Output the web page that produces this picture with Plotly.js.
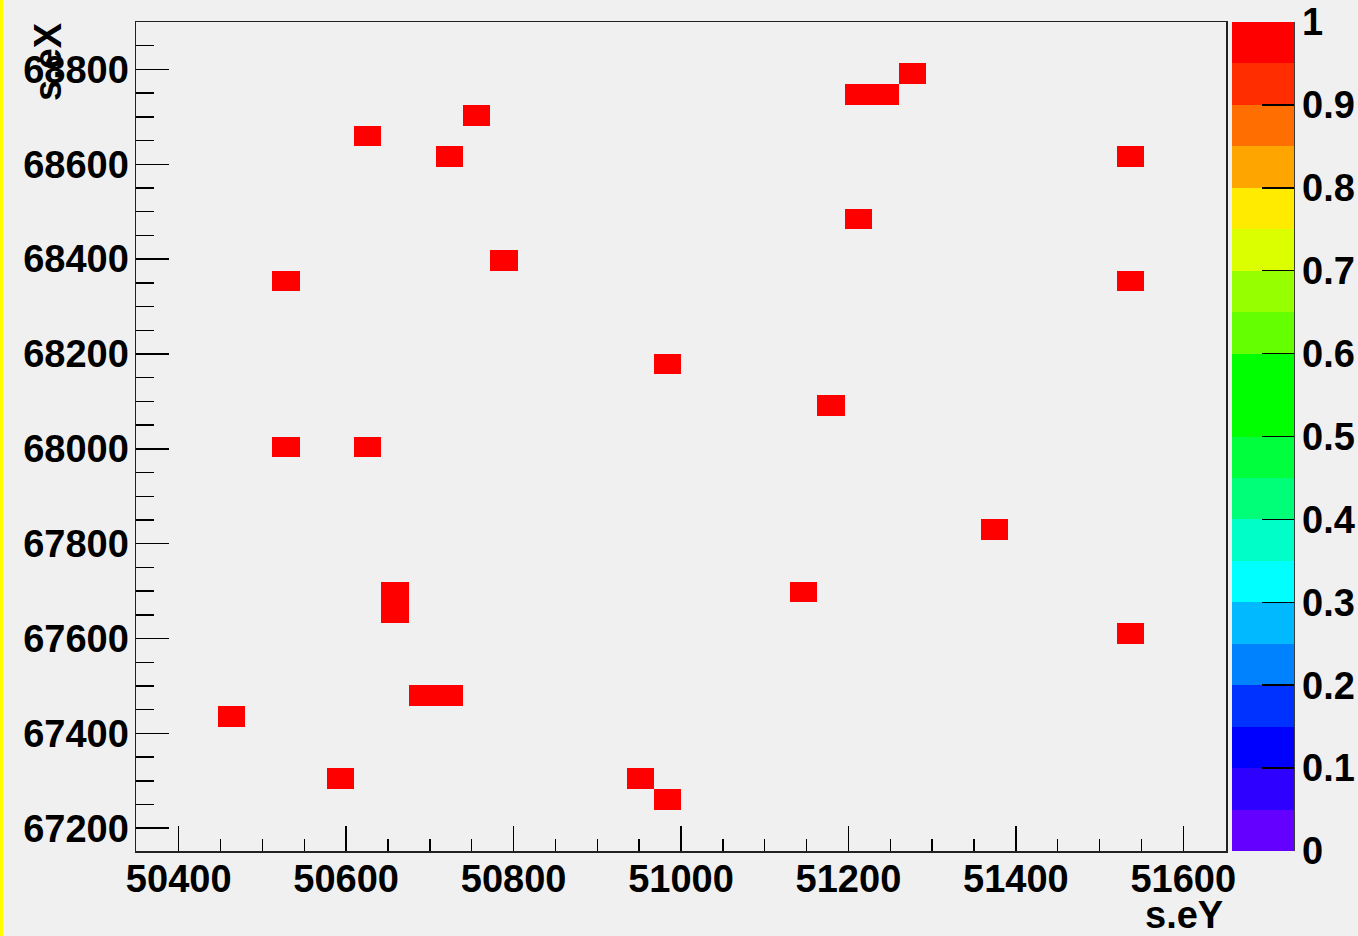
<!DOCTYPE html>
<html>
<head>
<meta charset="utf-8">
<script src="https://cdn.plot.ly/plotly-3.0.1.min.js"></script>
<style>
  html, body { margin: 0; padding: 0; background: #f0f0f0; }
  #chart { width: 1358px; height: 936px; }
</style>
</head>
<body>
<div id="chart"></div>
<script>
// Filled cells of the 2D histogram (bin centres): s.eY on x, s.eX on y
const sEY = [51277, 51212, 51244, 50756, 50626, 50723, 51537, 51212, 50788, 50528,
             51537, 50984, 51179, 50528, 50626, 51374, 50658, 50658, 51146, 51537,
             50691, 50723, 50463, 50593, 50951, 50984];
const sEX = [68792, 68748, 68748, 68704, 68660, 68617, 68617, 68485, 68398, 68354,
             68354, 68179, 68092, 68005, 68005, 67830, 67698, 67655, 67698, 67611,
             67480, 67480, 67436, 67305, 67305, 67261];
const counts = [1,1,1,1,1,1,1,1,1,1,1,1,1,1,1,1,1,1,1,1,1,1,1,1,1,1];

// Histogram binning
const nBinsX = 40, xMin = 50349, xMax = 51651;
const nBinsY = 40, yMin = 67152, yMax = 68900;

// ROOT-style palette, bottom (0) to top (1)
const paletteColors = [
  'rgb(100,0,255)','rgb(45,0,255)','rgb(0,0,255)','rgb(0,50,255)','rgb(0,130,255)',
  'rgb(0,185,255)','rgb(0,255,255)','rgb(0,255,200)','rgb(0,255,120)','rgb(0,255,60)',
  'rgb(0,255,0)','rgb(0,255,0)','rgb(100,255,0)','rgb(150,255,0)','rgb(220,255,0)',
  'rgb(255,235,0)','rgb(255,165,0)','rgb(255,110,0)','rgb(255,45,0)','rgb(255,0,0)'
];
const paletteTicks = [0, 0.1, 0.2, 0.3, 0.4, 0.5, 0.6, 0.7, 0.8, 0.9, 1];

const dx = (xMax - xMin) / nBinsX;
const dy = (yMax - yMin) / nBinsY;
const z = [];
for (let j = 0; j < nBinsY; j++) { z.push(new Array(nBinsX).fill(null)); }
for (let k = 0; k < sEY.length; k++) {
  const i = Math.floor((sEY[k] - xMin) / dx);
  const j = Math.floor((sEX[k] - yMin) / dy);
  if (i >= 0 && i < nBinsX && j >= 0 && j < nBinsY) {
    z[j][i] = (z[j][i] || 0) + counts[k];
  }
}

const n = paletteColors.length;
const colorscale = [];
paletteColors.forEach((c, k) => {
  colorscale.push([k / n, c]);
  colorscale.push([(k + 1) / n, c]);
});

const W = 1358, H = 936;
const mL = 136, mR = 132, mT = 22, mB = 85;
const pw = W - mL - mR, ph = H - mT - mB;
const px2x = p => (p - mL) / pw;
const py2y = p => (H - mB - p) / ph;

const font = { family: 'Liberation Sans, Arial, Helvetica, sans-serif', size: 38, color: '#000', weight: 700 };

const trace = {
  type: 'heatmap',
  z: z,
  x0: xMin + dx / 2, dx: dx,
  y0: yMin + dy / 2, dy: dy,
  zmin: 0, zmax: 1,
  zsmooth: false,
  colorscale: colorscale,
  hoverongaps: false,
  colorbar: {
    x: px2x(1232), xanchor: 'left', xref: 'paper',
    y: 0.5, yanchor: 'middle', len: 1, lenmode: 'fraction',
    thickness: 62, thicknessmode: 'pixels',
    xpad: 0, ypad: 0,
    outlinewidth: 0,
    tickmode: 'array', tickvals: paletteTicks, ticktext: paletteTicks.map(v => String(v)),
    ticks: 'inside', ticklen: 32, tickwidth: 1.5, tickcolor: '#000',
    tickfont: font,
    ticklabelstandoff: 2
  }
};

const axisCommon = {
  showgrid: false, zeroline: false,
  showline: true, linecolor: '#222', linewidth: 1.5, mirror: true,
  ticks: 'inside', tickcolor: '#000', tickwidth: 1.5,
  tickfont: font, tickformat: 'd'
};

const layout = {
  width: W, height: H,
  margin: { l: mL, r: mR, t: mT, b: mB, autoexpand: false },
  paper_bgcolor: '#f0f0f0', plot_bgcolor: '#f0f0f0',
  showlegend: false,
  xaxis: Object.assign({}, axisCommon, {
    range: [xMin, xMax], tick0: 50400, dtick: 200, ticklen: 25,
    minor: { dtick: 50, tick0: 50400, ticks: 'inside', ticklen: 12, tickcolor: '#000', tickwidth: 1.5 },
    ticklabelstandoff: -6
  }),
  yaxis: Object.assign({}, axisCommon, {
    range: [yMin, yMax], tick0: 67200, dtick: 200, ticklen: 33,
    minor: { dtick: 50, tick0: 67200, ticks: 'inside', ticklen: 18, tickcolor: '#000', tickwidth: 1.5 },
    ticklabelstandoff: -2
  }),
  annotations: [
    { text: 's.eX', xref: 'paper', yref: 'paper', x: px2x(48), y: py2y(62),
      xanchor: 'center', yanchor: 'middle', textangle: -90, showarrow: false, font: font },
    { text: 's.eY', xref: 'paper', yref: 'paper', x: px2x(1184), y: py2y(915),
      xanchor: 'center', yanchor: 'middle', showarrow: false, font: font }
  ],
  shapes: [
    { type: 'rect', xref: 'paper', yref: 'paper', x0: px2x(0), x1: px2x(3), y0: py2y(H), y1: py2y(0),
      fillcolor: 'rgb(255,255,0)', line: { width: 0 }, layer: 'above' },
    { type: 'line', xref: 'paper', yref: 'paper', x0: px2x(1294), x1: px2x(1294), y0: 0, y1: 1,
      line: { color: '#000', width: 1.5 }, layer: 'above' }
  ]
};

Plotly.newPlot('chart', [trace], layout, { displayModeBar: false, staticPlot: true });
</script>
</body>
</html>
